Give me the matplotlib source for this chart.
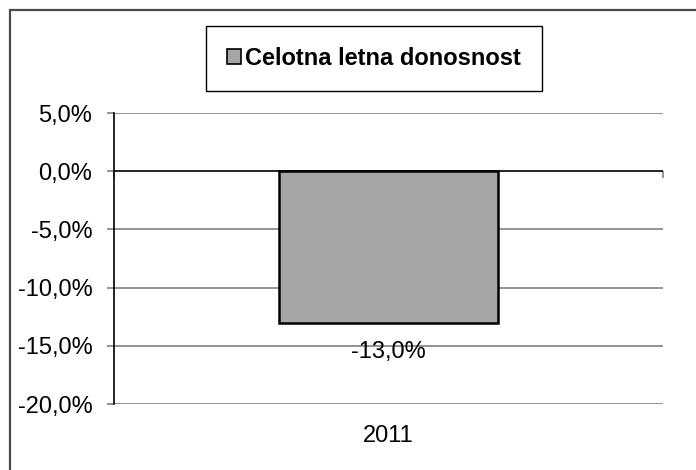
import matplotlib.pyplot as plt
from matplotlib.patches import Rectangle, Patch
from matplotlib.ticker import FuncFormatter

plt.rcParams['font.family'] = ['Liberation Sans', 'DejaVu Sans']

years = ['2011']
returns = [-13.0]
series_name = 'Celotna letna donosnost'
y_ticks = [5, 0, -5, -10, -15, -20]

fig = plt.figure(figsize=(6.96, 4.70), dpi=100)
ax = fig.add_axes([114/696, 1-404/470, (663-114)/696, (404-113)/470])

# outer chart frame (cut off at right/bottom like the original)
fig.patches.append(Rectangle((9.5/696, -0.1), 1.2, 1-9.5/470+0.1, transform=fig.transFigure,
                             fill=False, edgecolor='#4a4a4a', lw=1.6))

for v in y_ticks:
    ax.axhline(v, color='black' if v == 0 else '#808080', lw=1.2, zorder=1)

bars = ax.bar(range(len(years)), returns, width=0.40, color='#a6a6a6',
              edgecolor='black', lw=1.8, zorder=2)

for b, v in zip(bars, returns):
    ax.annotate(('%.1f%%' % v).replace('.', ','), (b.get_x()+b.get_width()/2, v),
                xytext=(0, -21), textcoords='offset points', ha='center', va='center',
                fontsize=17)

ax.set_xlim(-0.5, 0.5)
ax.set_ylim(-20, 5)
ax.set_yticks(y_ticks)
ax.yaxis.set_major_formatter(FuncFormatter(lambda v, p: ('%.1f%%' % v).replace('.', ',')))
ax.tick_params(axis='y', length=5, width=1.2, color='#808080', labelsize=17, pad=10.5)
ax.set_xticks(range(len(years)), years)
ax.tick_params(axis='x', length=0, labelsize=17, pad=15)

for s in ['top', 'right', 'bottom']:
    ax.spines[s].set_visible(False)
ax.spines['left'].set_color('black')
ax.spines['left'].set_linewidth(1.2)

# category axis ticks at the zero line
sec = ax.secondary_xaxis((0 - (-20)) / 25)
sec.set_xticks([-0.5, 0.5], ['', ''])
sec.tick_params(length=5, width=1.2, color='#808080', direction='in')
sec.spines['bottom'].set_visible(False)
sec.spines['top'].set_visible(False)

handle = Patch(facecolor='#a6a6a6', edgecolor='black', lw=1.2)
leg = fig.legend([handle], [series_name], loc='center', bbox_to_anchor=(374/696, 1-58.5/470),
                 frameon=True, fancybox=False, edgecolor='black', framealpha=1,
                 prop={'weight': 'bold', 'size': 17}, handlelength=0.6, handleheight=0.6,
                 handletextpad=0.15, borderpad=0.9, borderaxespad=0)
leg.get_frame().set_linewidth(1.0)

fig.savefig('out.png', dpi=100)
